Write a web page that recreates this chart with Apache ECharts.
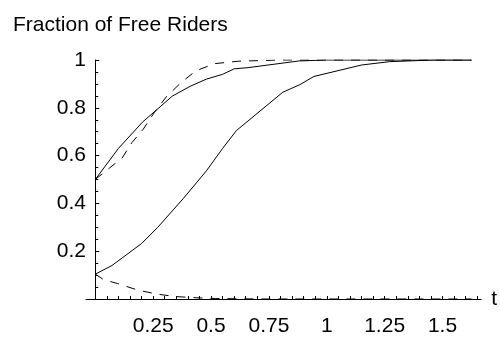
<!DOCTYPE html>
<html>
<head>
<meta charset="utf-8">
<script src="https://cdn.jsdelivr.net/npm/echarts@6/dist/echarts.min.js"></script>
<style>
  html, body { margin: 0; padding: 0; background: #fff; }
  #chart { width: 500px; height: 337px; }
</style>
</head>
<body>
<div id="chart"></div>
<script>
// Time points and fractions for each of the four trajectories
const tFastSolid = [0, 0.1, 0.204, 0.333, 0.41, 0.48, 0.55, 0.60, 0.66, 0.88, 1.0, 1.625];
const vFastSolid = [0.5, 0.63, 0.74, 0.849, 0.89, 0.92, 0.94, 0.963, 0.968, 0.996, 1.0, 1.0];

const tFastDashed = [0, 0.06, 0.116, 0.158, 0.207, 0.255, 0.306, 0.37, 0.435, 0.517, 0.62, 0.8, 1.625];
const vFastDashed = [0.5, 0.547, 0.59, 0.654, 0.71, 0.78, 0.845, 0.905, 0.955, 0.985, 0.995, 1.0, 1.0];

const tSlowSolid = [0, 0.072, 0.2, 0.27, 0.38, 0.48, 0.55, 0.61, 0.81, 0.884, 0.944, 1.15, 1.27, 1.46, 1.625];
const vSlowSolid = [0.104, 0.14, 0.232, 0.30, 0.42, 0.536, 0.63, 0.705, 0.865, 0.897, 0.931, 0.979, 0.993, 1.0, 1.0];

const tDecayDashed = [0, 0.036, 0.095, 0.185, 0.27, 0.35, 0.44, 0.52, 0.7, 1.625];
const vDecayDashed = [0.104, 0.081, 0.065, 0.037, 0.02, 0.01, 0.005, 0.002, 0, 0];

// Axis ticks and labels
const xLabelValues = [0.25, 0.5, 0.75, 1, 1.25, 1.5];
const xTickValues = [];
for (let k = 1; k <= 33; k++) xTickValues.push(+(k * 0.05).toFixed(2));

const pairs = (ts, vs) => ts.map((t, i) => [t, vs[i]]);

const FONT = '"Liberation Sans", Arial, sans-serif';
const FS = 21;

const lineSeries = (ts, vs, dashed) => ({
  type: 'line',
  data: pairs(ts, vs),
  showSymbol: false,
  symbol: 'none',
  silent: true,
  lineStyle: { color: '#000', width: 1, type: dashed ? [9, 8] : 'solid' }
});

const chart = echarts.init(document.getElementById('chart'), null, { renderer: 'canvas' });
chart.setOption({
  animation: false,
  backgroundColor: '#fff',
  title: {
    text: 'Fraction of Free Riders',
    left: 8, top: 10,
    textStyle: { fontFamily: FONT, fontSize: FS, fontWeight: 'normal', color: '#000' }
  },
  grid: { left: 86, right: 18, top: 60, bottom: 34 },
  xAxis: {
    type: 'value',
    min: -0.04, max: 1.667,
    name: 't',
    nameLocation: 'end',
    nameGap: 10,
    nameTextStyle: { fontFamily: FONT, fontSize: FS, color: '#000', verticalAlign: 'middle' },
    axisLine: { onZero: true, lineStyle: { color: '#000', width: 1 } },
    axisTick: { show: true, inside: true, length: 3, customValues: xTickValues, lineStyle: { color: '#000' } },
    axisLabel: {
      customValues: xLabelValues,
      margin: 17,
      fontFamily: FONT, fontSize: FS, color: '#000',
      formatter: v => String(v)
    },
    splitLine: { show: false }
  },
  yAxis: {
    type: 'value',
    min: 0, max: 1, interval: 0.2,
    axisLine: { show: true, onZero: true, lineStyle: { color: '#000', width: 1 } },
    axisTick: { show: true, inside: true, length: 4, lineStyle: { color: '#000' } },
    minorTick: { show: true, splitNumber: 4, length: 3, lineStyle: { color: '#000' } },
    axisLabel: {
      margin: 0,
      fontFamily: FONT, fontSize: FS, color: '#000',
      formatter: v => (v === 0 ? '' : String(+v.toFixed(2)))
    },
    splitLine: { show: false }
  },
  series: [
    lineSeries(tFastSolid, vFastSolid, false),
    lineSeries(tFastDashed, vFastDashed, true),
    lineSeries(tSlowSolid, vSlowSolid, false),
    lineSeries(tDecayDashed, vDecayDashed, true)
  ]
});
</script>
</body>
</html>
